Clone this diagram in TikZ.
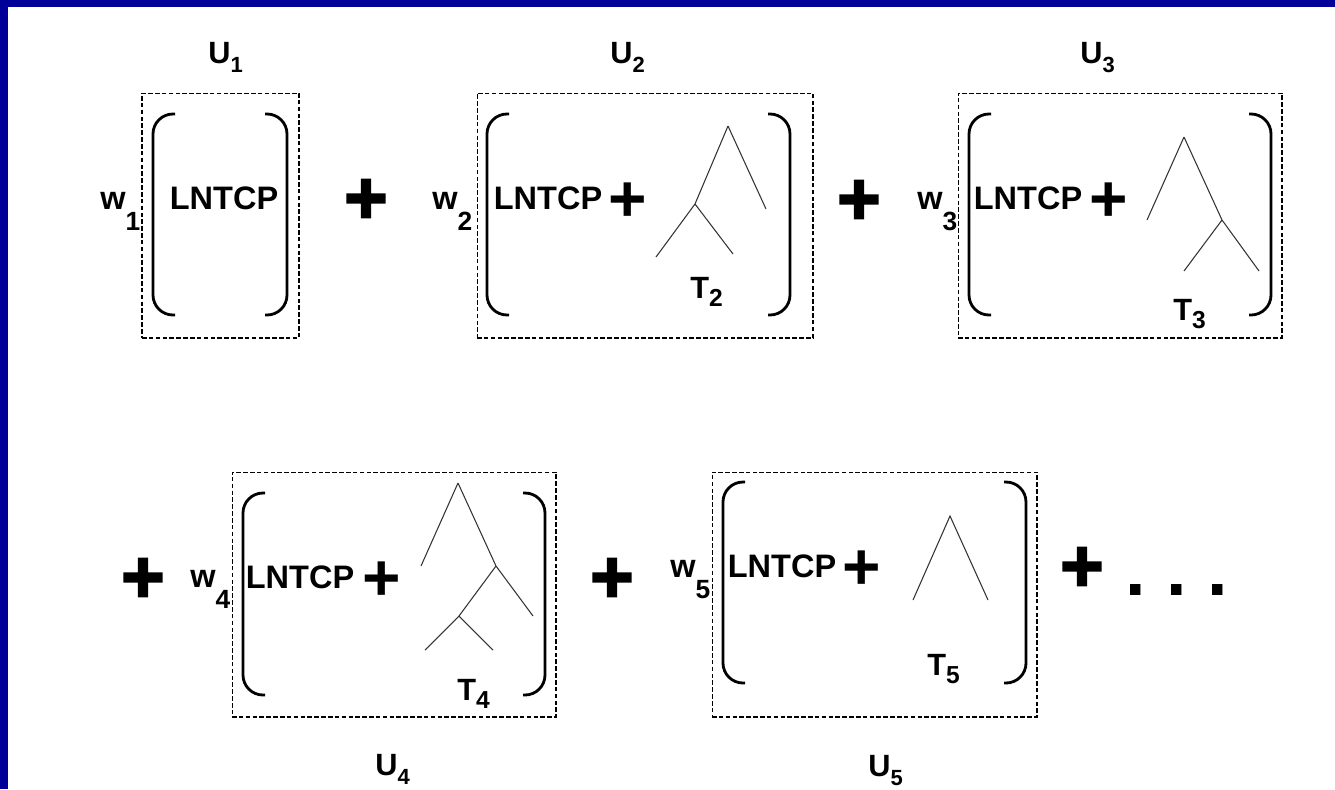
\documentclass[tikz,border=0pt]{standalone}
\usepackage{fontspec}
\setmainfont{Liberation Sans}
\newfontfamily\heavyfont[BoldFeatures={FakeBold=3}]{Liberation Sans}
\usetikzlibrary{positioning}
\definecolor{slideblue}{RGB}{0,0,153}
\newcommand\usub[1]{\raisebox{-5.5pt}{\fontsize{12.5}{13}\selectfont #1}}
\newcommand\tsub[1]{\raisebox{-5pt}{\fontsize{14}{14}\selectfont #1}}
\newcommand\wsub[1]{\raisebox{-12.5pt}{\fontsize{15}{15}\selectfont #1}}

\begin{document}
\begin{tikzpicture}[x=0.02cm, y=-0.02cm,
  unitbox/.style={draw, line width=0.6pt, dash pattern=on 2.6pt off 1.3pt, inner sep=0pt, minimum height=4.9cm},
  brk/.style={line width=1.6pt, rounded corners=0.4cm},
  branch/.style={line width=0.6pt, black!80},
  txt/.style={inner sep=0pt, anchor=base west, font=\bfseries\fontsize{18.5}{21}\selectfont},
  lbl/.style={txt, font=\bfseries\fontsize{17.5}{19}\selectfont},
  op/.style={inner sep=0pt, anchor=base, font=\bfseries\fontsize{37.5}{40}\selectfont},
  bigop/.style={inner sep=0pt, anchor=base, font=\heavyfont\bfseries\fontsize{42}{44}\selectfont},
  dots/.style={inner sep=0pt, anchor=base west, font=\bfseries\fontsize{42}{44}\selectfont}]
\useasboundingbox (0,0) rectangle (1335,789);
\fill[slideblue] (0,0) rectangle (1335,789);
\fill[white] (8,7) rectangle (1335,789);

% dashed units
\node[unitbox, minimum width=3.14cm] (U1) at (220.5,215.5) {};
\node[unitbox, minimum width=6.72cm] (U2) at (645,215.5) {};
\node[unitbox, minimum width=6.48cm] (U3) at (1120,215.5) {};
\node[unitbox, minimum width=6.48cm] (U4) at (394,594.5) {};
\node[unitbox, minimum width=6.50cm] (U5) at (874.5,594.5) {};

% brackets: left x / right x / top / bottom
\foreach \l/\r/\t/\b in {153/287/114/315, 487/790/114/315, 969/1271/114/315, 243/545/493/695, 723/1026/482/683}{
  \draw[brk] ({\l+22},\t) -| (\l,\b) -- ({\l+22},\b);
  \draw[brk] ({\r-22},\t) -| (\r,\b) -- ({\r-22},\b);
}

% labels
\node[lbl] (u1) at (208,63) {U\usub{1}};
\node[lbl] (u2) at (610,63) {U\usub{2}};
\node[lbl] (u3) at (1080,63) {U\usub{3}};
\node[lbl] (u4) at (375,775) {U\usub{4}};
\node[lbl] (u5) at (868,776) {U\usub{5}};

\node[txt] (w1) at (100,209) {w\wsub{1}};
\node[txt] (w2) at (432,209) {w\wsub{2}};
\node[txt] (w3) at (917,209) {w\wsub{3}};
\node[txt] (w4) at (190,587) {w\wsub{4}};
\node[txt] (w5) at (670,577) {w\wsub{5}};

\node[txt] (c1) at (169.5,209) {LNTCP};
\node[txt] (c2) at (493.5,209) {LNTCP};
\node[txt] (c3) at (973.5,209) {LNTCP};
\node[txt] (c4) at (245.5,588) {LNTCP};
\node[txt] (c5) at (727.5,577) {LNTCP};

\node[op] (p2) at (628,221) {+};
\node[op] (p3) at (1109,221) {+};
\node[op] (p4) at (382,600) {+};
\node[op] (p5) at (862,589) {+};

\node[lbl] (T2) at (690,298) {T\tsub{2}};
\node[lbl] (T3) at (1173,320) {T\tsub{3}};
\node[lbl] (T4) at (457,700) {T\tsub{4}};
\node[lbl] (T5) at (927,675) {T\tsub{5}};

% operators between units
\node[bigop] (s1) at (366,223) {+};
\node[bigop] (s2) at (859,224) {+};
\node[bigop] (s3) at (143,602) {+};
\node[bigop] (s4) at (612,602) {+};
\node[bigop] (s5) at (1082,591) {+};
\node[dots] (more) at (1125,595) {\frenchspacing . . .};

% trees
\coordinate (t2a) at (728,126); \coordinate (t2r) at (766,209);
\coordinate (t2b) at (695,204); \coordinate (t2l) at (656,257); \coordinate (t2m) at (733,254);
\draw[branch] (t2a) -- (t2r) (t2a) -- (t2b) -- (t2l) (t2b) -- (t2m);

\coordinate (t3a) at (1184,137); \coordinate (t3l) at (1147,220);
\coordinate (t3b) at (1222,220); \coordinate (t3m) at (1184,271); \coordinate (t3r) at (1259,271);
\draw[branch] (t3a) -- (t3l) (t3a) -- (t3b) -- (t3m) (t3b) -- (t3r);

\coordinate (t4a) at (458,483); \coordinate (t4l) at (421,566);
\coordinate (t4b) at (496,566); \coordinate (t4r) at (533,616);
\coordinate (t4c) at (459,616); \coordinate (t4m) at (425,650); \coordinate (t4n) at (493,650);
\draw[branch] (t4a) -- (t4l) (t4a) -- (t4b) -- (t4r) (t4b) -- (t4c) -- (t4m) (t4c) -- (t4n);

\coordinate (t5a) at (950,516); \coordinate (t5l) at (913,600); \coordinate (t5r) at (988,600);
\draw[branch] (t5l) -- (t5a) -- (t5r);
\end{tikzpicture}
\end{document}
